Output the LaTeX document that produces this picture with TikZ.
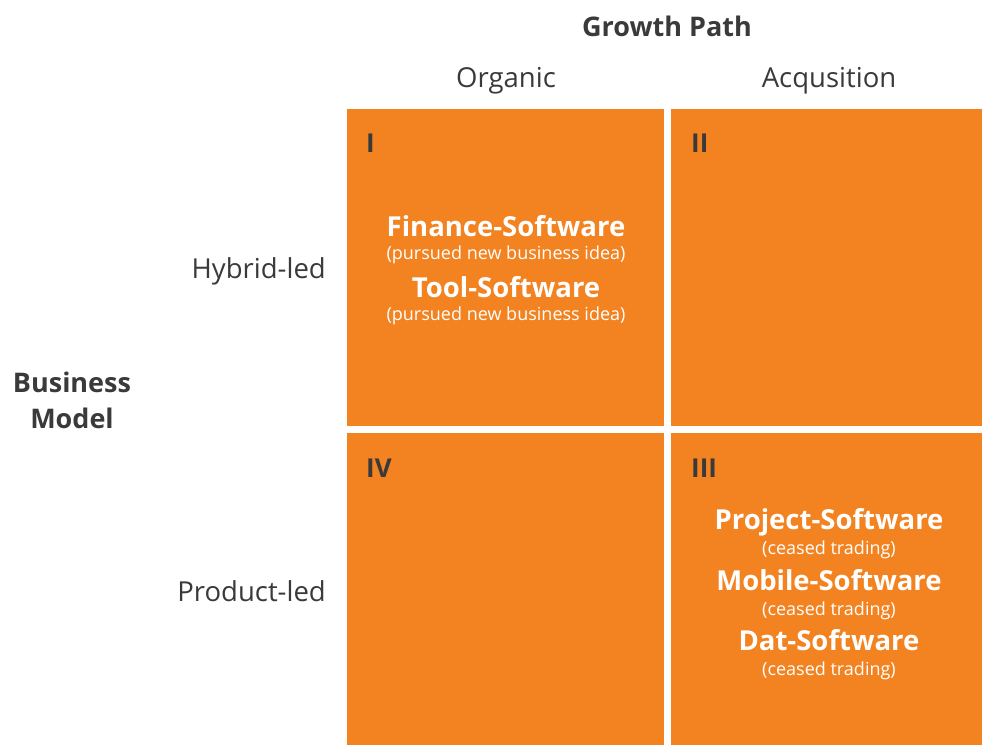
\documentclass[tikz,border=0pt]{standalone}
\usepackage{fontspec}
\setmainfont{Open Sans}
\definecolor{quadorange}{RGB}{243,131,33}
\definecolor{labelgray}{RGB}{58,58,58}
\begin{document}
\begin{tikzpicture}[x=1pt,y=-1pt,inner sep=0pt,
		quad/.style={fill=quadorange,draw=none,anchor=north west},
		axislabel/.style={text=labelgray,font=\fontsize{27.5}{30}\selectfont,anchor=base},
		axistitle/.style={text=labelgray,font=\bfseries\fontsize{27}{30}\selectfont,anchor=base},
		numeral/.style={text=labelgray,font=\bfseries\fontsize{26}{30}\selectfont,anchor=base west},
		firm/.style={text=white,font=\bfseries\fontsize{27.5}{30}\selectfont,anchor=base},
		note/.style={text=white,font=\fontsize{18}{20}\selectfont,anchor=base}]
	\useasboundingbox (0,0) rectangle (982,745);
	% quadrants
	\node[quad,minimum width=317pt,minimum height=317pt] (q1) at (347,109) {};
	\node[quad,minimum width=311pt,minimum height=317pt] (q2) at (671,109) {};
	\node[quad,minimum width=311pt,minimum height=312pt] (q3) at (671,433) {};
	\node[quad,minimum width=317pt,minimum height=312pt] (q4) at (347,433) {};
	% axis labels
	\node[axistitle] (growth) at (667,36) {Growth Path};
	\node[axislabel] (organic) at (506,87) {Organic};
	\node[axislabel] (acq) at (829,87) {Acqusition};
	\node[axislabel,anchor=base east] (hybrid) at (326,278) {Hybrid-led};
	\node[axislabel,anchor=base east] (product) at (326,601) {Product-led};
	\node[axistitle] (business) at (72,392) {Business};
	\node[axistitle] (model) at (72,428) {Model};
	% numerals
	\node[numeral] (n1) at (366,152) {I};
	\node[numeral] (n2) at (691,152) {II};
	\node[numeral] (n3) at (691,477) {III};
	\node[numeral] (n4) at (366,477) {IV};
	% firms
	\node[firm] (finance) at (506,236) {Finance-Software};
	\node[note] (financenote) at (506,259) {(pursued new business idea)};
	\node[firm] (tool) at (506,297) {Tool-Software};
	\node[note] (toolnote) at (506,320) {(pursued new business idea)};
	\node[firm] (project) at (829,529) {Project-Software};
	\node[note] (projectnote) at (829,554) {(ceased trading)};
	\node[firm] (mobile) at (829,590) {Mobile-Software};
	\node[note] (mobilenote) at (829,615) {(ceased trading)};
	\node[firm] (dat) at (829,650) {Dat-Software};
	\node[note] (datnote) at (829,675) {(ceased trading)};
\end{tikzpicture}
\end{document}
